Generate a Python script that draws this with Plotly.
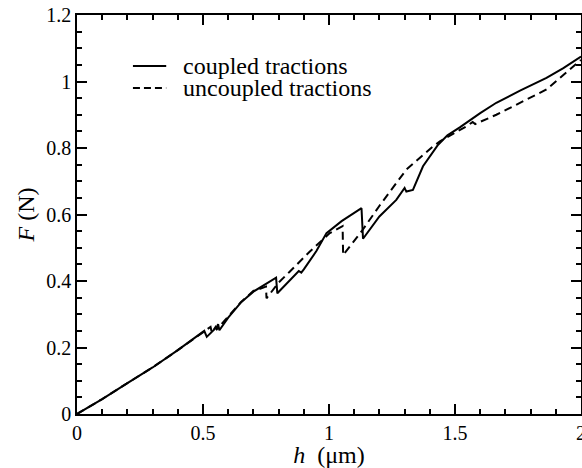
import plotly.graph_objects as go

# coupled tractions (solid)
h_coupled = [0, 0.1, 0.2, 0.3, 0.4, 0.505, 0.515, 0.555, 0.56, 0.565, 0.6, 0.65, 0.7, 0.75,
             0.79, 0.795, 0.84, 0.88, 0.89, 0.9, 0.95, 0.99, 1.05, 1.129, 1.135, 1.2, 1.267,
             1.30, 1.307, 1.333, 1.373, 1.433, 1.47, 1.519, 1.6, 1.664, 1.76, 1.863, 1.93, 2.0]
F_coupled = [0, 0.045, 0.093, 0.140, 0.192, 0.250, 0.232, 0.262, 0.270, 0.252, 0.290, 0.335,
             0.368, 0.392, 0.410, 0.363, 0.400, 0.430, 0.425, 0.435, 0.490, 0.544, 0.580, 0.619,
             0.527, 0.594, 0.644, 0.680, 0.669, 0.674, 0.745, 0.810, 0.838, 0.862, 0.905, 0.936,
             0.973, 1.011, 1.040, 1.075]

# uncoupled tractions (dashed)
h_uncoupled = [0, 0.1, 0.2, 0.3, 0.4, 0.505, 0.53, 0.535, 0.55, 0.555, 0.6, 0.65, 0.7, 0.75,
               0.752, 0.8, 0.844, 0.923, 1.003, 1.054, 1.056, 1.129, 1.201, 1.307, 1.413, 1.44,
               1.545, 1.57, 1.58, 1.664, 1.863, 2.0]
F_uncoupled = [0, 0.045, 0.093, 0.140, 0.192, 0.250, 0.262, 0.245, 0.262, 0.255, 0.292, 0.336,
               0.370, 0.383, 0.348, 0.395, 0.428, 0.488, 0.544, 0.565, 0.478, 0.549, 0.627,
               0.735, 0.805, 0.820, 0.865, 0.878, 0.872, 0.900, 0.976, 1.065]

series_names = ["coupled tractions", "uncoupled tractions"]
x_tickvals = [0, 0.5, 1, 1.5, 2]
x_ticktext = ["0", "0.5", "1", "1.5", "2"]
y_tickvals = [0, 0.2, 0.4, 0.6, 0.8, 1.0, 1.2]
y_ticktext = ["0", "0.2", "0.4", "0.6", "0.8", "1", "1.2"]

FONT = "Liberation Serif"
X_RANGE = [0, 2]
Y_RANGE = [0, 1.2]

fig = go.Figure()
fig.add_trace(go.Scatter(x=h_coupled, y=F_coupled, mode="lines", name=series_names[0],
                         line=dict(color="black", width=2), showlegend=False))
fig.add_trace(go.Scatter(x=h_uncoupled, y=F_uncoupled, mode="lines", name=series_names[1],
                         line=dict(color="black", width=2, dash="8px,5px"), showlegend=False))

tickfont = dict(family=FONT, size=20, color="black")
titlefont = dict(family=FONT, size=24, color="black")
common = dict(showline=True, linecolor="black", linewidth=1.5, mirror="ticks",
              ticks="inside", tickcolor="black", tickwidth=1.5, ticklen=10,
              showgrid=False, zeroline=False, tickfont=tickfont,
              ticklabeloverflow="allow", automargin=False)
xminor = dict(dtick=0.1, tick0=0, ticks="inside", ticklen=5, tickwidth=1.5,
              tickcolor="black", showgrid=False)
yminor = dict(dtick=0.05, tick0=0, ticks="inside", ticklen=5, tickwidth=1.5,
              tickcolor="black", showgrid=False)

fig.update_layout(
    width=582, height=468,
    margin=dict(l=77, r=1, t=15, b=54),
    paper_bgcolor="white", plot_bgcolor="white",
    font=dict(family=FONT, size=20, color="black"),
    showlegend=False,
    xaxis=dict(range=X_RANGE, tickvals=x_tickvals, ticktext=x_ticktext, minor=xminor,
               title=dict(text="<i>h</i>&nbsp; (μm)", font=titlefont, standoff=2), **common),
    yaxis=dict(range=Y_RANGE, tickvals=y_tickvals, ticktext=y_ticktext, minor=yminor,
               title=dict(text="<i>F</i> (N)", font=titlefont, standoff=5), **common),
)

# hand-placed legend (line samples + labels) in plot-area coordinates
legend_y = [0.872, 0.817]
legend_dash = ["solid", "7px,4px"]
for name, ly, dsh in zip(series_names, legend_y, legend_dash):
    fig.add_shape(type="line", xref="paper", yref="paper", x0=0.111, x1=0.177, y0=ly, y1=ly,
                  line=dict(color="black", width=2, dash=dsh))
    fig.add_annotation(xref="paper", yref="paper", x=0.207, y=ly, text=name, showarrow=False,
                       xanchor="left", yanchor="middle", font=dict(family=FONT, size=24, color="black"))

fig.write_html("out.html")
